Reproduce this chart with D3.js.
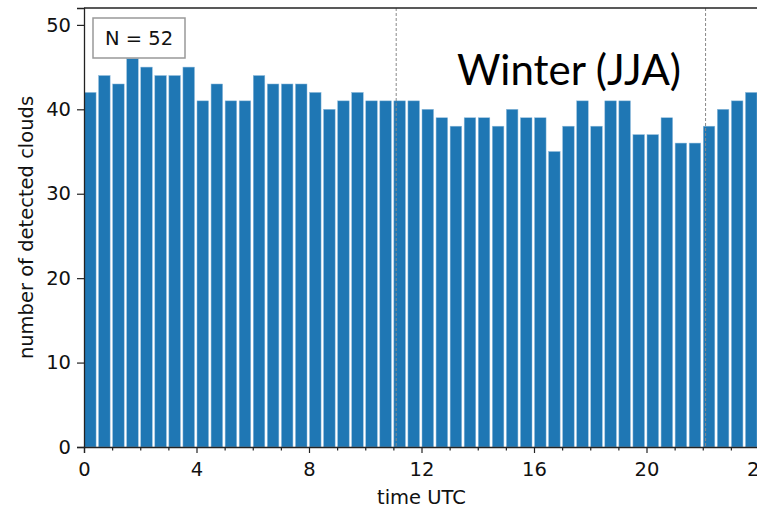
<!DOCTYPE html>
<html>
<head>
<meta charset="utf-8">
<script src="https://cdn.jsdelivr.net/npm/d3@7"></script>
<style>
  html, body { margin: 0; padding: 0; background: #fff; overflow: hidden; }
  svg { display: block; font-family: "DejaVu Sans", sans-serif; }
</style>
</head>
<body>
<div id="chart"></div>
<script>
// half-hourly bins (start hour, UTC)
const binStart = [
    0, 0.5, 1, 1.5, 2, 2.5, 3, 3.5, 4, 4.5, 5, 5.5,
    6, 6.5, 7, 7.5, 8, 8.5, 9, 9.5, 10, 10.5, 11, 11.5,
    12, 12.5, 13, 13.5, 14, 14.5, 15, 15.5, 16, 16.5, 17, 17.5,
    18, 18.5, 19, 19.5, 20, 20.5, 21, 21.5, 22, 22.5, 23, 23.5
];
const cloudCounts = [
    42, 44, 43, 46, 45, 44, 44, 45, 41, 43, 41, 41,
    44, 43, 43, 43, 42, 40, 41, 42, 41, 41, 41, 41,
    40, 39, 38, 39, 39, 38, 40, 39, 39, 35, 38, 41,
    38, 41, 41, 37, 37, 39, 36, 36, 38, 40, 41, 42
];
const binWidth = 0.5;
const markerHours = [11.1, 22.1];
const xTicks = [0, 4, 8, 12, 16, 20, 24];
const xMinorTicks = [1, 2, 3, 5, 6, 7, 9, 10, 11, 13, 14, 15, 17, 18, 19, 21, 22, 23];
const yTicks = [0, 10, 20, 30, 40, 50];
const sampleLabel = 'N = 52';
const seasonLabel = 'Winter (JJA)';

const width = 757, height = 508;
const margin = { top: 8, left: 84, bottom: 61 };
const plotRight = 759;
const fontSize = 19.5;

const svg = d3.select('#chart').append('svg')
    .attr('width', width)
    .attr('height', height);

const x = d3.scaleLinear().domain([0, 24]).range([margin.left, plotRight]);
const y = d3.scaleLinear().domain([0, 52]).range([height - margin.bottom, margin.top]);

const data = binStart.map((h, i) => ({ h, v: cloudCounts[i] }));

// Bars
svg.append('g').selectAll('rect')
    .data(data)
    .join('rect')
    .attr('x', d => x(d.h) + 0.5)
    .attr('y', d => y(d.v))
    .attr('width', d => x(d.h + binWidth) - x(d.h) - 2.5)
    .attr('height', d => y(0) - y(d.v))
    .attr('fill', '#1f77b4')
    .attr('stroke', '#8fbbdc')
    .attr('stroke-width', 0.5);

// Dashed markers
svg.append('g').selectAll('line')
    .data(markerHours)
    .join('line')
    .attr('x1', d => x(d)).attr('x2', d => x(d))
    .attr('y1', y(52)).attr('y2', y(0))
    .attr('stroke', '#888')
    .attr('stroke-width', 1)
    .attr('stroke-dasharray', '3,2');

// Axes
const xAxis = svg.append('g')
    .attr('transform', `translate(0,${y(0)})`)
    .call(d3.axisBottom(x).tickValues(xTicks).tickFormat(d3.format('d')).tickSize(6).tickPadding(9));
svg.append('g')
    .attr('transform', `translate(0,${y(0)})`)
    .call(d3.axisBottom(x).tickValues(xMinorTicks).tickFormat('').tickSize(3.5))
    .call(g => g.select('.domain').remove())
    .selectAll('line').attr('stroke', '#222').attr('stroke-width', 1.2);

const yAxis = svg.append('g')
    .attr('transform', `translate(${margin.left},0)`)
    .call(d3.axisLeft(y).tickValues(yTicks).tickSize(7).tickPadding(6));

[xAxis, yAxis].forEach(g => {
    g.select('.domain').attr('stroke', '#222').attr('stroke-width', 1.3);
    g.selectAll('.tick line').attr('stroke', '#222').attr('stroke-width', 1.2);
    g.selectAll('.tick text')
        .attr('font-size', fontSize)
        .attr('font-family', '"DejaVu Sans", sans-serif')
        .attr('fill', '#111');
});

// Top spine
svg.append('line')
    .attr('x1', margin.left).attr('x2', plotRight)
    .attr('y1', y(52)).attr('y2', y(52))
    .attr('stroke', '#222').attr('stroke-width', 1.3);

// Axis titles
svg.append('text')
    .attr('x', x(12))
    .attr('y', 504)
    .attr('text-anchor', 'middle')
    .attr('font-size', fontSize)
    .attr('fill', '#111')
    .text('time UTC');

svg.append('text')
    .attr('transform', `translate(33,${(y(0) + y(52)) / 2}) rotate(-90)`)
    .attr('text-anchor', 'middle')
    .attr('font-size', fontSize)
    .attr('fill', '#111')
    .text('number of detected clouds');

// N box
const box = svg.append('g');
box.append('rect')
    .attr('x', 93).attr('y', 18)
    .attr('width', 92).attr('height', 40)
    .attr('fill', '#fff')
    .attr('stroke', '#999')
    .attr('stroke-width', 1.5);
box.append('text')
    .attr('x', 139).attr('y', 45)
    .attr('text-anchor', 'middle')
    .attr('font-size', fontSize)
    .attr('fill', '#111')
    .text(sampleLabel);

// Season label
svg.append('text')
    .attr('x', 569).attr('y', 85)
    .attr('text-anchor', 'middle')
    .attr('font-family', 'Lato, "Open Sans", sans-serif')
    .attr('font-size', 42)
    .attr('fill', '#000')
    .text(seasonLabel);
</script>
</body>
</html>
